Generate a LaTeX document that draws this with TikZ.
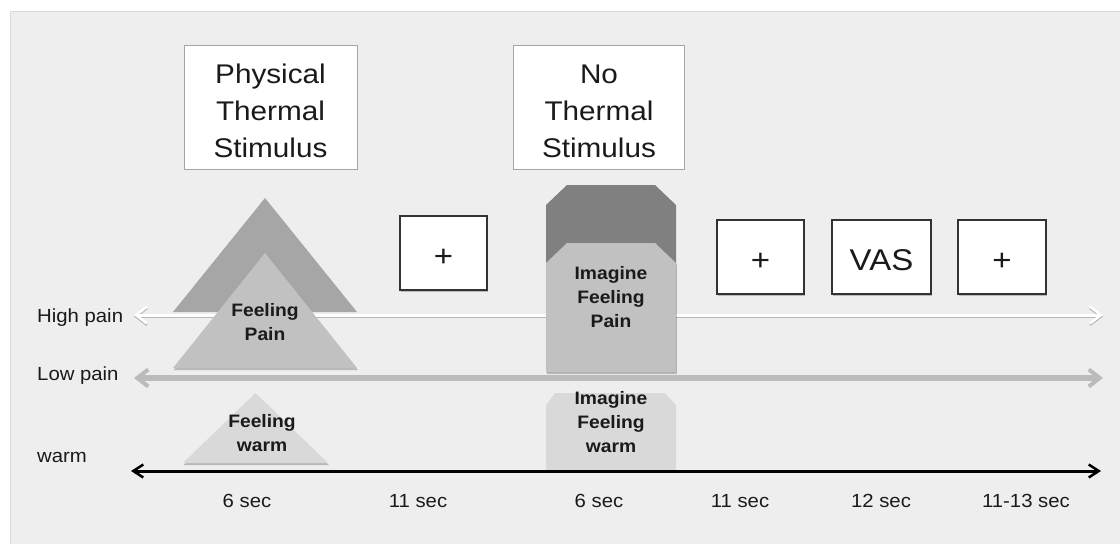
\documentclass[tikz,border=0pt]{standalone}
\usepackage{fontspec}
\setmainfont{Liberation Sans}[FakeStretch=1.07]
\newfontfamily\widefont{Liberation Sans}[FakeStretch=1.1]
\usetikzlibrary{arrows.meta,shadows}
\definecolor{panel}{HTML}{EEEEEE}
\definecolor{paneledge}{HTML}{D9D9D9}
\definecolor{darktri}{HTML}{A6A6A6}
\definecolor{lighttri}{HTML}{C1C1C1}
\definecolor{darkoct}{HTML}{808080}
\definecolor{warmfill}{HTML}{D9D9D9}
\definecolor{lowpain}{HTML}{BBBBBB}
\definecolor{ink}{HTML}{1A1A1A}
\tikzset{
  softshadow/.style={drop shadow={shadow xshift=0.8pt,shadow yshift=-2pt,opacity=0.22,fill=black}},
  stimbox/.style={draw=black!35,line width=1pt,fill=white,minimum width=173pt,minimum height=124pt},
  stimtext/.style={align=center,font=\widefont\fontsize{27}{37}\selectfont,text=ink,inner sep=0pt},
  fixbox/.style={draw=black!80,line width=1.2pt,fill=white,softshadow,minimum height=74pt,
    font=\widefont\fontsize{30}{30}\selectfont,text=ink,text height=27pt,text depth=0pt},
  shapetext/.style={align=center,font=\bfseries\fontsize{18}{24}\selectfont,text=ink,inner sep=0pt},
  sidelabel/.style={anchor=base west,font=\fontsize{19}{19}\selectfont,text=ink,inner sep=0pt},
  timelabel/.style={anchor=base,font=\fontsize{19}{19}\selectfont,text=ink,inner sep=0pt},
  hightip/.tip={Straight Barb[length=11pt,width=17pt,line width=2.5pt]},
  lowtip/.tip={Straight Barb[length=11pt,width=17pt,line width=4pt]},
  warmtip/.tip={Straight Barb[length=10pt,width=13pt,line width=2.5pt]},
  highline/.style={white,line width=3pt,hightip-hightip},
  highshade/.style={black!45,line width=3pt,opacity=0.55,hightip-hightip},
  lowline/.style={lowpain,line width=5.5pt,lowtip-lowtip},
  warmline/.style={black,line width=3pt,warmtip-warmtip}
}
\begin{document}
\begin{tikzpicture}[x=1pt,y=-1pt]
\useasboundingbox (0,0) rectangle (1120,544);
% background and panel
\fill[white] (0,0) rectangle (1120,544);
\fill[panel] (10,11) rectangle (1120,544);
\draw[paneledge,line width=1pt] (10.5,544) -- (10.5,11.5) -- (1120,11.5);

% stimulus headers
\node[stimbox] (phys) at (270.5,107.5) {};
\node[stimtext] (physT) at (270.5,111) {Physical\\Thermal\\Stimulus};
\node[stimbox,minimum width=171pt] (nostim) at (599,107.5) {};
\node[stimtext] (nostimT) at (599,111) {No\\Thermal\\Stimulus};

% high-pain shapes (dark layers)
\fill[darktri] (173,312) -- (265,198) -- (357,312) -- cycle;
\fill[darkoct] (546,372) -- (546,205) -- (567,185) -- (655,185) -- (676,205) -- (676,372) -- cycle;

% axis ends
\coordinate (hpL) at (134,315);
\coordinate (hpR) at (1103,315);
\coordinate (lpL) at (134,378);
\coordinate (lpR) at (1103,378);
\coordinate (wL) at (131,471);
\coordinate (wR) at (1101,471);

% high pain axis
\draw[highshade] ([yshift=-1.5pt]hpL) -- ([yshift=-1.5pt]hpR);
\draw[highline] (hpL) -- (hpR);

% low-pain shapes (light layers)
\fill[lighttri,softshadow] (173,368) -- (265,253) -- (357,368) -- cycle;
\fill[lighttri,softshadow] (546,372) -- (546,263) -- (567,243) -- (655,243) -- (676,263) -- (676,372) -- cycle;

% warm shapes
\fill[warmfill,softshadow] (183,463) -- (255.5,393) -- (328,463) -- cycle;
\fill[warmfill] (546,471) -- (546,405) -- (555,393) -- (665,393) -- (676,405) -- (676,471) -- cycle;

% low pain and warm axes
\draw[lowline] (lpL) -- (lpR);
\draw[warmline] (wL) -- (wR);

% shape texts
\node[shapetext] (fpain) at (265,322) {Feeling\\Pain};
\node[shapetext] (ipain) at (611,297.5) {Imagine\\Feeling\\Pain};
\node[shapetext] (fwarm) at (262,433) {Feeling\\warm};
\node[shapetext] (iwarm) at (611,422) {Imagine\\Feeling\\warm};

% fixation and rating boxes
\node[fixbox,minimum width=87pt] (fix1) at (443.5,253) {+};
\node[fixbox,minimum width=87pt] (fix2) at (760.5,257) {+};
\node[fixbox,minimum width=99pt] (vas) at (881.5,257) {VAS};
\node[fixbox,minimum width=88pt] (fix3) at (1002,257) {+};

% intensity labels
\node[sidelabel] (lhigh) at (37,322) {High pain};
\node[sidelabel] (llow) at (37,380) {Low pain};
\node[sidelabel] (lwarm) at (37,462) {warm};

% durations
\node[timelabel] (t1) at (247,507) {6 sec};
\node[timelabel] (t2) at (418,507) {11 sec};
\node[timelabel] (t3) at (599,507) {6 sec};
\node[timelabel] (t4) at (740,507) {11 sec};
\node[timelabel] (t5) at (881,507) {12 sec};
\node[timelabel] (t6) at (1026,507) {11-13 sec};
\end{tikzpicture}
\end{document}
